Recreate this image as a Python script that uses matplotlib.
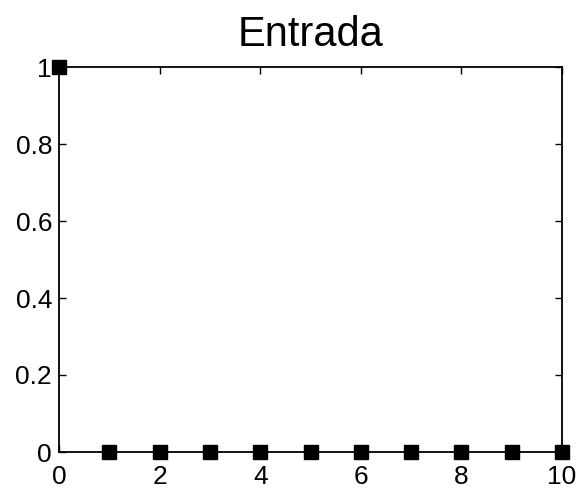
import matplotlib.pyplot as plt
import numpy as np

n = [0, 1, 2, 3, 4, 5, 6, 7, 8, 9, 10]
entrada = [1, 0, 0, 0, 0, 0, 0, 0, 0, 0, 0]

plt.rcParams['font.family'] = ['Liberation Sans', 'DejaVu Sans']

fig = plt.figure(figsize=(5.78, 4.88), dpi=100)
ax = fig.add_axes([59 / 578, 1 - 452 / 488, 503 / 578, 385 / 488])
ax.plot(n, entrada, 's', color='black', markersize=10.5, clip_on=False, zorder=5)
ax.set_xlim(0, 10)
ax.set_ylim(0, 1)
ax.set_xticks([0, 2, 4, 6, 8, 10])
ax.set_yticks([0, 0.2, 0.4, 0.6, 0.8, 1])
ax.set_yticklabels(['0', '0.2', '0.4', '0.6', '0.8', '1'])
ax.tick_params(direction='in', length=5, width=1, labelsize=19,
               top=True, right=True)
ax.tick_params(axis='x', pad=9)
ax.tick_params(axis='y', pad=5)
for s in ax.spines.values():
    s.set_linewidth(1.3)
ax.set_title('Entrada', fontsize=30, pad=15)

fig.savefig('out.png', dpi=100)
